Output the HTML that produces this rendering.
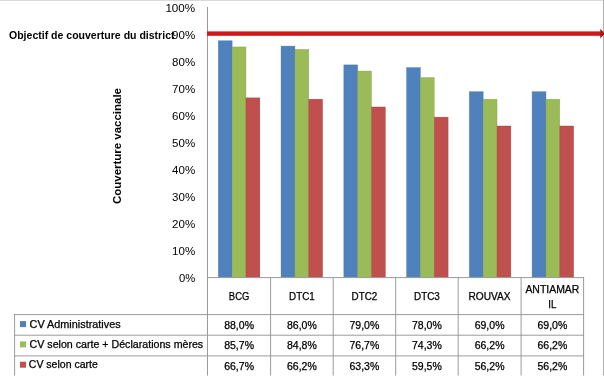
<!DOCTYPE html>
<html lang="fr"><head><meta charset="utf-8"><title>Couverture vaccinale</title>
<style>
html,body{margin:0;padding:0;background:#fff;}
body{width:604px;height:377px;overflow:hidden;}
svg{display:block;filter:blur(0.45px);}
text{font-family:"Liberation Sans",Arial,sans-serif;fill:#000;}
.t9{font-size:10.3px;stroke:#000;stroke-width:0.25px;}
.t10{font-size:11.7px;}
.b{font-weight:bold;}
.t10.b{font-size:11.4px;}
.t9.b{stroke:none;}
</style></head><body>
<svg width="604" height="377" viewBox="0 0 604 377">
<rect x="0" y="0" width="604" height="377" fill="#fff"/>
<rect x="0" y="0" width="604" height="1" fill="#d9d9d9"/>
<rect x="603" y="0" width="1" height="375.5" fill="#b0b0b0"/>
<rect x="218.30" y="40.76" width="13.85" height="236.54" fill="#4F81BD" stroke="#3c6494" stroke-width="0.5" stroke-opacity="0.6"/>
<rect x="232.15" y="46.92" width="13.85" height="230.38" fill="#9BBB59" stroke="#7d9a45" stroke-width="0.5" stroke-opacity="0.6"/>
<rect x="246.00" y="97.84" width="13.85" height="179.46" fill="#C0504D" stroke="#8e3836" stroke-width="0.5" stroke-opacity="0.6"/>
<rect x="281.06" y="46.12" width="13.85" height="231.18" fill="#4F81BD" stroke="#3c6494" stroke-width="0.5" stroke-opacity="0.6"/>
<rect x="294.91" y="49.34" width="13.85" height="227.96" fill="#9BBB59" stroke="#7d9a45" stroke-width="0.5" stroke-opacity="0.6"/>
<rect x="308.76" y="99.18" width="13.85" height="178.12" fill="#C0504D" stroke="#8e3836" stroke-width="0.5" stroke-opacity="0.6"/>
<rect x="343.82" y="64.88" width="13.85" height="212.42" fill="#4F81BD" stroke="#3c6494" stroke-width="0.5" stroke-opacity="0.6"/>
<rect x="357.67" y="71.04" width="13.85" height="206.26" fill="#9BBB59" stroke="#7d9a45" stroke-width="0.5" stroke-opacity="0.6"/>
<rect x="371.52" y="106.96" width="13.85" height="170.34" fill="#C0504D" stroke="#8e3836" stroke-width="0.5" stroke-opacity="0.6"/>
<rect x="406.58" y="67.56" width="13.85" height="209.74" fill="#4F81BD" stroke="#3c6494" stroke-width="0.5" stroke-opacity="0.6"/>
<rect x="420.43" y="77.48" width="13.85" height="199.82" fill="#9BBB59" stroke="#7d9a45" stroke-width="0.5" stroke-opacity="0.6"/>
<rect x="434.28" y="117.14" width="13.85" height="160.16" fill="#C0504D" stroke="#8e3836" stroke-width="0.5" stroke-opacity="0.6"/>
<rect x="469.34" y="91.68" width="13.85" height="185.62" fill="#4F81BD" stroke="#3c6494" stroke-width="0.5" stroke-opacity="0.6"/>
<rect x="483.19" y="99.18" width="13.85" height="178.12" fill="#9BBB59" stroke="#7d9a45" stroke-width="0.5" stroke-opacity="0.6"/>
<rect x="497.04" y="125.98" width="13.85" height="151.32" fill="#C0504D" stroke="#8e3836" stroke-width="0.5" stroke-opacity="0.6"/>
<rect x="532.10" y="91.68" width="13.85" height="185.62" fill="#4F81BD" stroke="#3c6494" stroke-width="0.5" stroke-opacity="0.6"/>
<rect x="545.95" y="99.18" width="13.85" height="178.12" fill="#9BBB59" stroke="#7d9a45" stroke-width="0.5" stroke-opacity="0.6"/>
<rect x="559.80" y="125.98" width="13.85" height="151.32" fill="#C0504D" stroke="#8e3836" stroke-width="0.5" stroke-opacity="0.6"/>
<g stroke="#9a9a9a" stroke-width="1" fill="none">
<line x1="207.5" y1="7" x2="207.5" y2="375.5"/>
<line x1="270.6" y1="277.5" x2="270.6" y2="375.5"/>
<line x1="333.2" y1="277.5" x2="333.2" y2="375.5"/>
<line x1="395.7" y1="277.5" x2="395.7" y2="375.5"/>
<line x1="458.2" y1="277.5" x2="458.2" y2="375.5"/>
<line x1="521.1" y1="277.5" x2="521.1" y2="375.5"/>
<line x1="583.6" y1="277.5" x2="583.6" y2="375.5"/>
<line x1="207" y1="277.6" x2="584.1" y2="277.6"/>
<line x1="14.1" y1="314.6" x2="584.1" y2="314.6"/>
<line x1="14.1" y1="335.2" x2="584.1" y2="335.2"/>
<line x1="14.1" y1="355.9" x2="584.1" y2="355.9"/>
<line x1="14.6" y1="314.1" x2="14.6" y2="375.6"/>
</g>
<rect x="207" y="31.4" width="394" height="4.4" fill="#d01818"/>
<path d="M600.3 28.8 L605.2 33.6 L600.3 38.5 Z" fill="#a81616"/>
<text class="t10" x="195.2" y="11.7" text-anchor="end" textLength="29.8" lengthAdjust="spacingAndGlyphs" fill="#222">100%</text>
<text class="t10" x="195.2" y="38.7" text-anchor="end" textLength="23.1" lengthAdjust="spacingAndGlyphs" fill="#222">90%</text>
<text class="t10" x="195.2" y="65.7" text-anchor="end" textLength="23.1" lengthAdjust="spacingAndGlyphs" fill="#222">80%</text>
<text class="t10" x="195.2" y="92.8" text-anchor="end" textLength="23.1" lengthAdjust="spacingAndGlyphs" fill="#222">70%</text>
<text class="t10" x="195.2" y="119.8" text-anchor="end" textLength="23.1" lengthAdjust="spacingAndGlyphs" fill="#222">60%</text>
<text class="t10" x="195.2" y="146.8" text-anchor="end" textLength="23.1" lengthAdjust="spacingAndGlyphs" fill="#222">50%</text>
<text class="t10" x="195.2" y="173.8" text-anchor="end" textLength="23.1" lengthAdjust="spacingAndGlyphs" fill="#222">40%</text>
<text class="t10" x="195.2" y="200.8" text-anchor="end" textLength="23.1" lengthAdjust="spacingAndGlyphs" fill="#222">30%</text>
<text class="t10" x="195.2" y="227.9" text-anchor="end" textLength="23.1" lengthAdjust="spacingAndGlyphs" fill="#222">20%</text>
<text class="t10" x="195.2" y="254.9" text-anchor="end" textLength="23.1" lengthAdjust="spacingAndGlyphs" fill="#222">10%</text>
<text class="t10" x="195.2" y="281.9" text-anchor="end" textLength="16.3" lengthAdjust="spacingAndGlyphs" fill="#222">0%</text>
<text class="t9 b" x="9" y="39" textLength="165.5" lengthAdjust="spacingAndGlyphs">Objectif de couverture du district</text>
<text class="t10 b" transform="translate(120.6 204) rotate(-90)" textLength="116" lengthAdjust="spacingAndGlyphs">Couverture vaccinale</text>
<text class="t9" x="239.1" y="299.7" text-anchor="middle" textLength="20.5" lengthAdjust="spacingAndGlyphs">BCG</text>
<text class="t9" x="301.9" y="299.7" text-anchor="middle" textLength="25.7" lengthAdjust="spacingAndGlyphs">DTC1</text>
<text class="t9" x="364.4" y="299.7" text-anchor="middle" textLength="25.7" lengthAdjust="spacingAndGlyphs">DTC2</text>
<text class="t9" x="426.9" y="299.7" text-anchor="middle" textLength="25.7" lengthAdjust="spacingAndGlyphs">DTC3</text>
<text class="t9" x="489.6" y="299.7" text-anchor="middle" textLength="42.1" lengthAdjust="spacingAndGlyphs">ROUVAX</text>
<text class="t9" x="552.4" y="293.2" text-anchor="middle" textLength="54" lengthAdjust="spacingAndGlyphs">ANTIAMAR</text>
<text class="t9" x="552.4" y="307.6" text-anchor="middle" textLength="8.1" lengthAdjust="spacingAndGlyphs">IL</text>
<rect x="20" y="321.1" width="6" height="6" fill="#4F81BD"/>
<text class="t9" x="29.6" y="327.7" textLength="91.0" lengthAdjust="spacingAndGlyphs">CV Administratives</text>
<text class="t9" x="239.1" y="328.7" text-anchor="middle" textLength="29.8" lengthAdjust="spacingAndGlyphs">88,0%</text>
<text class="t9" x="301.9" y="328.7" text-anchor="middle" textLength="29.8" lengthAdjust="spacingAndGlyphs">86,0%</text>
<text class="t9" x="364.4" y="328.7" text-anchor="middle" textLength="29.8" lengthAdjust="spacingAndGlyphs">79,0%</text>
<text class="t9" x="426.9" y="328.7" text-anchor="middle" textLength="29.8" lengthAdjust="spacingAndGlyphs">78,0%</text>
<text class="t9" x="489.6" y="328.7" text-anchor="middle" textLength="29.8" lengthAdjust="spacingAndGlyphs">69,0%</text>
<text class="t9" x="552.4" y="328.7" text-anchor="middle" textLength="29.8" lengthAdjust="spacingAndGlyphs">69,0%</text>
<rect x="20" y="341.4" width="6" height="6" fill="#9BBB59"/>
<text class="t9" x="29.6" y="348.0" textLength="173.6" lengthAdjust="spacingAndGlyphs">CV selon carte + Déclarations mères</text>
<text class="t9" x="239.1" y="349.4" text-anchor="middle" textLength="29.8" lengthAdjust="spacingAndGlyphs">85,7%</text>
<text class="t9" x="301.9" y="349.4" text-anchor="middle" textLength="29.8" lengthAdjust="spacingAndGlyphs">84,8%</text>
<text class="t9" x="364.4" y="349.4" text-anchor="middle" textLength="29.8" lengthAdjust="spacingAndGlyphs">76,7%</text>
<text class="t9" x="426.9" y="349.4" text-anchor="middle" textLength="29.8" lengthAdjust="spacingAndGlyphs">74,3%</text>
<text class="t9" x="489.6" y="349.4" text-anchor="middle" textLength="29.8" lengthAdjust="spacingAndGlyphs">66,2%</text>
<text class="t9" x="552.4" y="349.4" text-anchor="middle" textLength="29.8" lengthAdjust="spacingAndGlyphs">66,2%</text>
<rect x="20" y="361.7" width="6" height="6" fill="#C0504D"/>
<text class="t9" x="28.8" y="368.3" textLength="69.0" lengthAdjust="spacingAndGlyphs">CV selon carte</text>
<text class="t9" x="239.1" y="370.0" text-anchor="middle" textLength="29.8" lengthAdjust="spacingAndGlyphs">66,7%</text>
<text class="t9" x="301.9" y="370.0" text-anchor="middle" textLength="29.8" lengthAdjust="spacingAndGlyphs">66,2%</text>
<text class="t9" x="364.4" y="370.0" text-anchor="middle" textLength="29.8" lengthAdjust="spacingAndGlyphs">63,3%</text>
<text class="t9" x="426.9" y="370.0" text-anchor="middle" textLength="29.8" lengthAdjust="spacingAndGlyphs">59,5%</text>
<text class="t9" x="489.6" y="370.0" text-anchor="middle" textLength="29.8" lengthAdjust="spacingAndGlyphs">56,2%</text>
<text class="t9" x="552.4" y="370.0" text-anchor="middle" textLength="29.8" lengthAdjust="spacingAndGlyphs">56,2%</text>
</svg>
</body></html>
